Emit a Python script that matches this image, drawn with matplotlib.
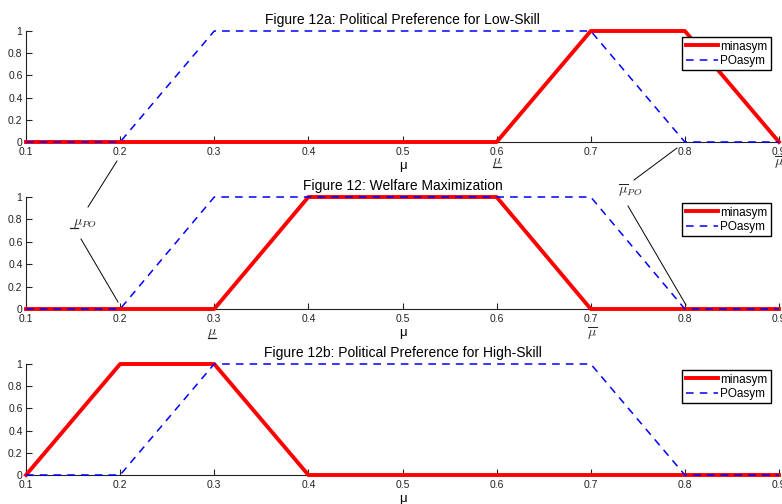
import numpy as np
import matplotlib.pyplot as plt
from matplotlib.lines import Line2D

plt.rcParams['font.family'] = ['Liberation Sans', 'DejaVu Sans']
plt.rcParams['mathtext.fontset'] = 'cm'

# Data
mu = [0.1, 0.2, 0.3, 0.4, 0.5, 0.6, 0.7, 0.8, 0.9]
minasym_low = [0, 0, 0, 0, 0, 0, 1, 1, 0]
poasym_low = [0, 0, 1, 1, 1, 1, 1, 0, 0]
minasym_wel = [0, 0, 0, 1, 1, 1, 0, 0, 0]
poasym_wel = [0, 0, 1, 1, 1, 1, 1, 0, 0]
minasym_high = [0, 1, 1, 0, 0, 0, 0, 0, 0]
poasym_high = [0, 0, 1, 1, 1, 1, 1, 0, 0]

titles = ['Figure 12a: Political Preference for Low-Skill',
          'Figure 12: Welfare Maximization',
          'Figure 12b: Political Preference for High-Skill']
xticks = [0.1, 0.2, 0.3, 0.4, 0.5, 0.6, 0.7, 0.8, 0.9]
yticks = [0, 0.2, 0.4, 0.6, 0.8, 1]

W, H = 782, 504
fig = plt.figure(figsize=(W / 100, H / 100), dpi=100)

def px(x, y):
    return x / W, 1 - y / H

# axes boxes in pixels: (top, bottom)
rows = [(31, 142), (197, 309), (364, 475)]
left, right = 26, 779
data = [(minasym_low, poasym_low), (minasym_wel, poasym_wel), (minasym_high, poasym_high)]

axes = []
for (top, bot), (mn, po), title in zip(rows, data, titles):
    ax = fig.add_axes([left / W, 1 - bot / H, (right - left) / W, (bot - top) / H])
    ax.plot(mu, mn, color='#ff0000', lw=2.8, label='minasym', clip_on=False, zorder=3)
    ax.plot(mu, po, color='#0000ff', lw=1.1, dashes=(5, 4), label='POasym', clip_on=False, zorder=4)
    ax.set_xlim(0.1, 0.9)
    ax.set_ylim(0, 1)
    ax.set_xticks(xticks)
    ax.set_xticklabels(['0.1', '0.2', '0.3', '0.4', '0.5', '0.6', '0.7', '0.8', '0.9'])
    ax.set_yticks(yticks)
    ax.set_yticklabels(['0', '0.2', '0.4', '0.6', '0.8', '1'])
    ax.tick_params(direction='in', length=4, width=0.8, labelsize=7.5, pad=2.5, colors='#222222')
    ax.tick_params(axis='x', pad=3.5)
    ax.spines['top'].set_visible(False)
    ax.spines['right'].set_visible(False)
    for s in ['left', 'bottom']:
        ax.spines[s].set_linewidth(0.8)
        ax.spines[s].set_color('#222222')
    ax.set_xlabel('μ', fontsize=9.5, labelpad=2.5)
    ax.set_title(title, fontsize=10, pad=5)
    leg = ax.legend(loc='upper right', bbox_to_anchor=(0.989, 0.946), fontsize=8.5,
                    handlelength=2.7, handletextpad=0.2, borderpad=0.3,
                    labelspacing=0.2, borderaxespad=0, fancybox=False, framealpha=1)
    leg.get_frame().set_edgecolor('black')
    leg.get_frame().set_linewidth(1.0)
    axes.append(ax)

# mu-bar / mu-underbar markers under the axes
def over_mu(x, y, sub=''):
    fig.text(*px(x, y), r'$\overline{\mu}' + sub + '$', fontsize=10,
             ha='center', va='center', color='#222222')

def under_mu(x, y, sub=''):
    fig.text(*px(x, y), r'$\mu' + sub + '$', fontsize=10,
             ha='center', va='center', color='#222222')
    x0 = x - (len(sub) > 0) * 11 - 4
    fig.add_artist(Line2D([px(x0, 0)[0], px(x0 + 8, 0)[0]],
                          [px(0, y + 5)[1], px(0, y + 5)[1]],
                          color='#222222', lw=0.9))

under_mu(497, 162)
over_mu(779, 163)
under_mu(212, 333)
over_mu(592, 334)

under_mu(85, 223, sub='_{PO}')
over_mu(630, 191, sub='_{PO}')

# annotation leader lines
for (x0, y0), (x1, y1) in [((117, 161), (88, 207)), ((81, 239), (118, 302)),
                           ((677, 148), (634, 180)), ((628, 206), (686, 305))]:
    fig.add_artist(Line2D([px(x0, y0)[0], px(x1, y1)[0]],
                          [px(x0, y0)[1], px(x1, y1)[1]],
                          color='black', lw=0.7))

fig.savefig('out.png', dpi=100)
